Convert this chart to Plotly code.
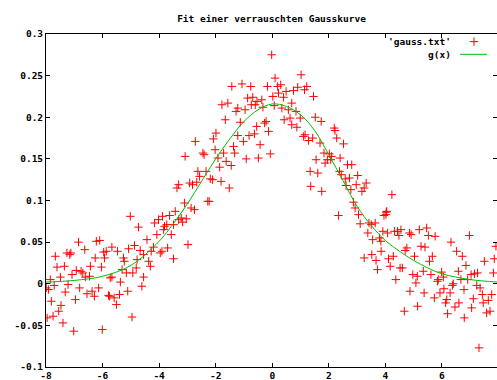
import plotly.graph_objects as go

# ---------------- data ----------------
title_text = "Fit einer verrauschten Gausskurve"
data_label = "'gauss.txt'"
fit_label = "g(x)"

gauss_x = [
    -5.02, -4.73, -4.16, -4.02, -4.08, -4.43, -6.85, -6.22, -6.10, -6.63, -7.26, -7.12, -7.16, -7.67,
    -5.67, -5.47, -5.96, -5.87, -5.08, -4.87, -4.67, -4.20, -4.28, -4.55, -6.26, -5.93, -5.26, -5.23,
    -4.78, -4.37, -4.31, -7.61, -7.35, -6.43, -6.04, -6.93, -6.76, -6.70, -7.08, -7.49, -6.61, -6.46,
    -5.67, -5.73, -5.31, -5.16, -4.93, -4.81, -7.85, -7.99, -7.91, -7.71, -7.22, -6.81, -5.37, -4.55,
    -4.61, -6.14, -6.37, -6.55, -6.29, -5.79, -5.75, -5.59, -5.40, -5.11, -7.32, -7.81, -6.96, -5.51,
    -7.47, -7.55, -7.75, -7.96, -7.40, -4.96, -7.02, -6.01,
    -1.43, -1.07, -0.76, -0.17, -0.87, -0.69, -0.54, -0.37, 0.02, -0.74, -0.60, -0.33, -1.78, -1.57,
    -1.22, -1.28, -0.96, -1.66, -1.13, -0.55, -0.27, -0.22, -0.13, -1.99, -2.08, -1.22, -0.82, -0.63,
    -1.02, -0.43, -2.72, -2.45, -2.41, -2.02, -1.72, -1.37, -1.33, -0.07, -3.08, -1.92, -1.63, -1.45,
    -1.86, -0.92, -0.49, -2.63, -2.34,
    -2.57, -2.19, -2.11, -1.81, -1.52, -3.31, -3.37, -2.92, -2.82, -2.67, -2.28, -2.23, -3.10, -2.87,
    -2.75, -3.43, -3.63, -3.88, -3.22, -3.04, -3.31, -3.17, -3.73, -3.81, -3.49, -3.84, -3.57, -2.98,
    -3.70, -3.90, -3.96, -3.49,
    -0.02, 1.02, 0.10, 0.19, 0.30, 0.49, 0.22, 0.40, 0.75, 0.90, 1.14, 1.22, 1.46, 0.69, 0.07, 0.34,
    0.57, 0.84, 0.99, 0.42, 0.63, 1.52, 1.73, 0.69, 0.87, 2.19, 2.22, 2.28, 2.52, 1.10, 1.16, 1.28,
    1.43, 1.69, 1.83, 2.02, 2.10, 2.07, 1.95, 1.87, 2.40, 1.55, 2.66, 2.81,
    1.34, 1.61, 1.36, 1.75, 2.38, 2.44, 2.73, 2.58, 3.02, 2.61, 2.78, 2.97, 3.32, 3.25, 3.17, 2.87,
    2.93, 3.05, 2.34, 3.11, 3.42, 3.50, 3.64, 4.03, 3.95, 3.38, 3.91, 3.55, 3.79, 3.84, 3.85, 3.52,
    3.25, 3.67, 3.72,
    4.23, 4.05, 4.02, 4.08, 4.32, 4.43, 4.55, 4.48, 4.85, 4.91, 5.20, 5.46, 5.52, 5.76, 4.76, 4.70,
    5.26, 5.40, 4.11, 4.28, 4.17, 4.52, 4.60, 5.03, 5.66, 5.56, 6.32, 6.52, 6.72, 6.85, 6.97, 7.50,
    7.85, 7.91, 4.37, 4.97, 5.13, 5.08, 5.34, 5.61, 5.87, 5.84, 5.99, 6.05, 6.58, 6.40, 6.37, 6.67,
    7.03, 7.15, 7.26, 7.82, 6.91, 7.23, 7.35, 4.87, 5.93, 6.07, 6.29, 6.78, 5.37, 5.73, 6.17, 6.13,
    7.43, 7.76, 7.64, 7.11, 6.60, 6.46, 4.67, 5.14, 6.20, 6.79, 7.05, 7.46, 7.58, 7.70, 7.31,
]

gauss_y = [
    0.081, 0.068, 0.073, 0.077, 0.059, 0.053, 0.050, 0.051, 0.052, 0.041, 0.037, 0.037, 0.035, 0.033,
    0.044, 0.039, 0.038, 0.039, 0.042, 0.046, 0.040, 0.044, 0.039, 0.035, 0.031, 0.031, 0.031, 0.027,
    0.029, 0.027, 0.021, 0.020, 0.021, 0.021, 0.020, 0.016, 0.015, 0.013, 0.011, 0.008, 0.008, 0.009,
    0.008, 0.007, 0.017, 0.013, 0.013, 0.019, 0.005, -0.005, -0.007, -0.002, -0.001, -0.005, 0.002, 0.008,
    -0.003, -0.005, -0.009, -0.012, -0.015, -0.014, -0.015, -0.017, -0.013, -0.009, -0.010, -0.021, -0.019, -0.025,
    -0.026, -0.033, -0.039, -0.041, -0.047, -0.040, -0.057, -0.055,
    0.237, 0.240, 0.237, 0.237, 0.223, 0.224, 0.219, 0.221, 0.225, 0.215, 0.215, 0.212, 0.215, 0.217,
    0.211, 0.207, 0.209, 0.197, 0.194, 0.189, 0.193, 0.195, 0.183, 0.181, 0.174, 0.178, 0.178, 0.180,
    0.171, 0.167, 0.171, 0.157, 0.155, 0.161, 0.157, 0.165, 0.157, 0.156, 0.153, 0.151, 0.147, 0.142,
    0.140, 0.150, 0.151, 0.135, 0.135,
    0.129, 0.126, 0.125, 0.123, 0.115, 0.119, 0.115, 0.121, 0.119, 0.122, 0.099, 0.099, 0.097, 0.091,
    0.089, 0.087, 0.082, 0.081, 0.079, 0.078, 0.077, 0.074, 0.071, 0.069, 0.071, 0.065, 0.059, 0.047,
    0.043, 0.039, 0.037, 0.030,
    0.275, 0.251, 0.247, 0.237, 0.239, 0.231, 0.229, 0.224, 0.232, 0.236, 0.233, 0.237, 0.225, 0.217, 0.214, 0.211,
    0.209, 0.207, 0.199, 0.197, 0.199, 0.200, 0.195, 0.191, 0.188, 0.187, 0.184, 0.175, 0.168, 0.177, 0.179, 0.172,
    0.175, 0.169, 0.157, 0.156, 0.153, 0.149, 0.149, 0.145, 0.151, 0.149, 0.143, 0.143,
    0.135, 0.133, 0.117, 0.111, 0.135, 0.131, 0.127, 0.126, 0.130, 0.118, 0.113, 0.119, 0.121, 0.115, 0.111, 0.098,
    0.091, 0.083, 0.082, 0.072, 0.073, 0.071, 0.073, 0.086, 0.082, 0.061, 0.063, 0.053, 0.055, 0.051, 0.039, 0.035,
    0.031, 0.028, 0.017,
    0.107, 0.087, 0.083, 0.061, 0.063, 0.063, 0.065, 0.058, 0.061, 0.059, 0.065, 0.067, 0.058, 0.057, 0.043, 0.040,
    0.045, 0.044, 0.030, 0.033, 0.021, 0.019, 0.019, 0.033, 0.033, 0.027, 0.050, 0.039, 0.033, 0.022, 0.058, 0.027,
    0.030, 0.045, 0.005, 0.011, 0.009, 0.001, 0.015, 0.011, 0.005, 0.003, 0.014, 0.008, 0.015, 0.000, -0.002, 0.005,
    0.011, 0.012, 0.013, 0.013, 0.005, -0.002, -0.005, -0.009, -0.011, -0.006, -0.011, -0.007, -0.011, -0.017, -0.019, -0.023,
    -0.013, -0.013, -0.020, -0.018, -0.023, -0.028, -0.033, -0.027, -0.036, -0.041, -0.029, -0.023, -0.035, -0.033, -0.077,
]

fit_x = [-8, -7, -6, -5, -4, -3.5, -3, -2.5, -2, -1.5, -1, -0.5, 0, 0.5, 1, 1.5,
         2, 2.5, 3, 3.5, 4, 4.5, 5, 5.5, 6, 7, 8]
fit_y = [0.002, 0.004, 0.009, 0.022, 0.051, 0.072, 0.096, 0.123, 0.150, 0.174, 0.195, 0.209,
         0.216, 0.213, 0.203, 0.184, 0.155, 0.124, 0.093, 0.070, 0.052, 0.039, 0.028, 0.019,
         0.012, 0.005, 0.002]

x_ticks = [-8, -6, -4, -2, 0, 2, 4, 6, 8]
x_tick_labels = ["-8", "-6", "-4", "-2", "0", "2", "4", "6", "8"]
y_ticks = [-0.1, -0.05, 0, 0.05, 0.1, 0.15, 0.2, 0.25, 0.3]
y_tick_labels = ["-0.1", "-0.05", "0", "0.05", "0.1", "0.15", "0.2", "0.25", "0.3"]

# ---------------- styling ----------------
FONT = dict(family="DejaVu Sans Mono", size=9.5, color="black", weight="bold")
RED = "#ff0000"
GREEN = "#00c000"
MARK = dict(symbol="cross-thin", size=6, color=RED, line=dict(width=1, color=RED))

fig = go.Figure()

fig.add_trace(go.Scatter(
    x=gauss_x, y=gauss_y, mode="markers", name=data_label, marker=MARK, showlegend=False,
))
fig.add_trace(go.Scatter(
    x=fit_x, y=fit_y, mode="lines", name=fit_label, line_shape="spline",
    line=dict(color=GREEN, width=1), showlegend=False,
))
# empty trace to activate the right-hand mirror tick axis
fig.add_trace(go.Scatter(x=[], y=[], yaxis="y2", showlegend=False, hoverinfo="skip"))

# legend samples (gnuplot style: text then sample on the right)
fig.add_trace(go.Scatter(
    x=[0.949], y=[0.977], xaxis="x3", yaxis="y3", mode="markers", showlegend=False,
    marker=MARK, cliponaxis=False, hoverinfo="skip",
))
fig.add_trace(go.Scatter(
    x=[0.918, 0.978], y=[0.939, 0.939], xaxis="x3", yaxis="y3", mode="lines", showlegend=False,
    line=dict(color=GREEN, width=1), cliponaxis=False, hoverinfo="skip",
))

axis_common = dict(
    showgrid=False, zeroline=False, ticks="inside", ticklen=4, tickwidth=1,
    tickcolor="black", tickfont=FONT, automargin=False,
)

fig.update_layout(
    width=497, height=380,
    margin=dict(l=46, r=0, t=34, b=13, autoexpand=False),
    paper_bgcolor="white", plot_bgcolor="white",
    showlegend=False,
    title=dict(text=title_text, x=0.5, xref="paper", xanchor="center",
               y=1 - 18.3 / 380, yref="container", yanchor="middle", font=FONT),
    xaxis=dict(range=[-8, 7.947], tickvals=x_ticks, ticktext=x_tick_labels,
               showline=True, linecolor="black", linewidth=1, mirror="ticks", **axis_common),
    yaxis=dict(range=[-0.1, 0.3], tickvals=y_ticks, ticktext=y_tick_labels,
               showline=True, linecolor="black", linewidth=1, mirror=False, **axis_common),
    yaxis2=dict(range=[-0.1, 0.3], tickvals=y_ticks, overlaying="y", side="right",
                showticklabels=False, showline=False, **axis_common),
    xaxis3=dict(range=[0, 1], overlaying="x", visible=False),
    yaxis3=dict(range=[0, 1], overlaying="y", visible=False),
    annotations=[
        dict(text=data_label, x=0.9024, y=0.977, xref="paper", yref="paper",
             xanchor="right", yanchor="middle", showarrow=False, font=FONT),
        dict(text=fit_label, x=0.9024, y=0.939, xref="paper", yref="paper",
             xanchor="right", yanchor="middle", showarrow=False, font=FONT),
    ],
)

fig.write_html(
    "out.html",
    config={"displayModeBar": False},
    post_script="document.body.style.margin='0';document.body.style.padding='0';",
)
